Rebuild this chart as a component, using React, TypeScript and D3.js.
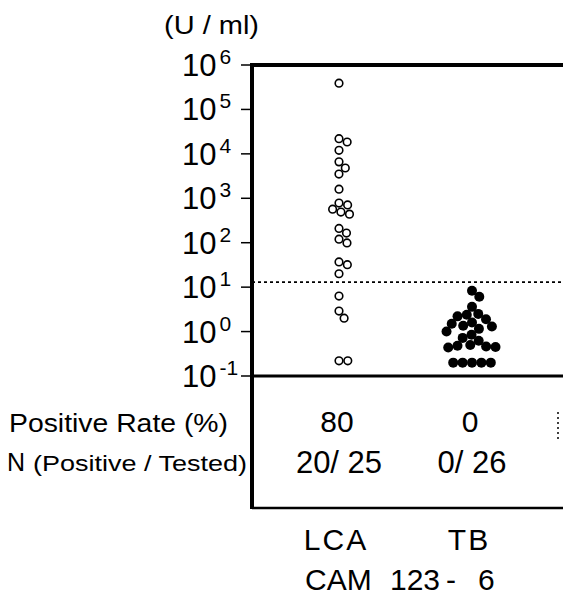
import React, { useEffect, useRef } from 'react';
import * as d3 from 'd3';

// values (U/ml)
const groups = ['LCA', 'TB'];
const lcaValues = [
  390000, 22000, 18500, 12000, 6600, 4800, 3500, 1600, 780, 710, 570, 490, 440,
  210, 165, 120, 99, 37, 32, 20, 6.3, 2.9, 2.0, 0.22, 0.22,
];
const tbValues = [
  8.3, 6.1, 3.6, 2.5, 2.4, 2.2, 1.9, 1.6, 1.5, 1.35, 1.3, 1.15, 1.0, 0.85, 0.72,
  0.62, 0.5, 0.48, 0.46, 0.45, 0.44, 0.2, 0.2, 0.2, 0.2, 0.2,
];
const cutoff = 13;
const tickExponents = [6, 5, 4, 3, 2, 1, 0, -1];
const positiveRates = ['80', '0'];
const positiveTested = ['20/ 25', '0/ 26'];

const W = 563;
const H = 598;
const FONT = '"Liberation Sans", Arial, Helvetica, sans-serif';

const App = () => {
  const svgRef = useRef(null);

  useEffect(() => {
    const svg = d3.select(svgRef.current);
    svg.selectAll('*').remove();

    const left = 252;
    const bottom = 508;
    const right = W + 10;

    const y = d3.scaleLog().domain([0.1, 1e6]).range([376, 65]);
    const x = d3.scalePoint().domain(groups).range([339, 472]);

    // simple beeswarm: stack dots sideways so they don't overlap too much
    function swarm(values, cx, minDist) {
      const placed = [];
      const pts = values.map(v => ({ v, y: y(v) })).sort((a, b) => a.y - b.y);
      for (const p of pts) {
        const cands = [0];
        for (const q of placed) {
          const dy = p.y - q.y;
          if (Math.abs(dy) < minDist) {
            const dx = Math.sqrt(minDist * minDist - dy * dy);
            cands.push(q.x + dx, q.x - dx);
          }
        }
        cands.sort((a, b) => Math.abs(a) - Math.abs(b) || b - a);
        const ok = cands.find(c =>
          placed.every(q => (q.x - c) ** 2 + (q.y - p.y) ** 2 >= minDist * minDist - 0.01)
        );
        placed.push({ x: ok, y: p.y });
      }
      return placed.map(p => ({ cx: cx + p.x, cy: p.y }));
    }

    // frame
    const frame = svg.append('g').attr('stroke', '#000').attr('fill', 'none');
    frame.append('line')
      .attr('x1', left - 2).attr('x2', right)
      .attr('y1', y(1e6)).attr('y2', y(1e6))
      .attr('stroke-width', 4);
    frame.append('line')
      .attr('x1', left).attr('x2', right)
      .attr('y1', y(0.1)).attr('y2', y(0.1))
      .attr('stroke-width', 3);
    frame.append('line')
      .attr('x1', left).attr('x2', right)
      .attr('y1', bottom).attr('y2', bottom)
      .attr('stroke-width', 2.5);
    frame.append('line')
      .attr('x1', left).attr('x2', left)
      .attr('y1', y(1e6) - 2).attr('y2', bottom + 1)
      .attr('stroke-width', 4);
    // bit of the cut-off right border
    frame.append('line')
      .attr('x1', 558).attr('x2', 558)
      .attr('y1', 412).attr('y2', 442)
      .attr('stroke-width', 1.5)
      .attr('stroke-dasharray', '2,3');

    // cutoff line
    svg.append('line')
      .attr('x1', left).attr('x2', right)
      .attr('y1', y(cutoff)).attr('y2', y(cutoff))
      .attr('stroke', '#000')
      .attr('stroke-width', 1.6)
      .attr('stroke-dasharray', '3,3');

    // y ticks
    const ticks = svg.append('g');
    tickExponents.forEach(e => {
      const ty = y(Math.pow(10, e));
      ticks.append('line')
        .attr('x1', left - 11).attr('x2', left)
        .attr('y1', ty).attr('y2', ty)
        .attr('stroke', '#000').attr('stroke-width', 1.5);
      const t = ticks.append('text')
        .attr('x', 182).attr('y', ty + 11)
        .attr('font-family', FONT)
        .attr('font-size', 31);
      t.append('tspan').text('10');
      t.append('tspan')
        .attr('font-size', 21)
        .attr('dx', 3)
        .attr('dy', -12)
        .text(String(e));
    });

    svg.append('text')
      .attr('x', 164).attr('y', 34)
      .attr('font-family', FONT).attr('font-size', 26)
      .attr('textLength', 95)
      .attr('lengthAdjust', 'spacingAndGlyphs')
      .text('(U / ml)');

    // dots
    swarm(lcaValues, x('LCA'), 8.8).forEach(d => {
      svg.append('circle')
        .attr('cx', d.cx).attr('cy', d.cy).attr('r', 3.8)
        .attr('fill', '#fff').attr('stroke', '#000').attr('stroke-width', 1.6);
    });
    swarm(tbValues, x('TB'), 9.4).forEach(d => {
      svg.append('circle')
        .attr('cx', d.cx).attr('cy', d.cy).attr('r', 5)
        .attr('fill', '#000');
    });

    // table under the plot
    const row1 = 432;
    const row2 = 473;
    const table = svg.append('g').attr('font-family', FONT).attr('fill', '#000');
    table.append('text')
      .attr('x', 9).attr('y', row1)
      .attr('font-size', 25)
      .attr('textLength', 219)
      .attr('lengthAdjust', 'spacingAndGlyphs')
      .text('Positive  Rate (%)');
    table.append('text')
      .attr('x', 7).attr('y', row2 - 2)
      .attr('font-size', 25)
      .text('N');
    table.append('text')
      .attr('x', 33).attr('y', row2 - 2)
      .attr('font-size', 22)
      .attr('textLength', 214)
      .attr('lengthAdjust', 'spacingAndGlyphs')
      .text('(Positive / Tested)');

    groups.forEach((g, i) => {
      table.append('text')
        .attr('x', x(g) - 2).attr('y', row1)
        .attr('text-anchor', 'middle')
        .attr('font-size', 30)
        .text(positiveRates[i]);
      table.append('text')
        .attr('x', x(g)).attr('y', row2)
        .attr('text-anchor', 'middle')
        .attr('font-size', 31)
        .text(positiveTested[i]);
      table.append('text')
        .attr('x', x(g) - 3).attr('y', 550)
        .attr('text-anchor', 'middle')
        .attr('font-size', 30)
        .attr('letter-spacing', 2)
        .text(g);
    });

    const cam = table.append('text').attr('y', 590).attr('font-size', 30);
    cam.append('tspan').attr('x', 305).text('CAM');
    cam.append('tspan').attr('x', 390).text('123');
    cam.append('tspan').attr('x', 446).text('-');
    cam.append('tspan').attr('x', 478).text('6');
  }, []);

  return (
    <svg ref={svgRef} width={W} height={H} viewBox={`0 0 ${W} ${H}`}
      style={{ position: 'absolute', left: 0, top: 0, background: '#fff' }} />
  );
};

export default App;
